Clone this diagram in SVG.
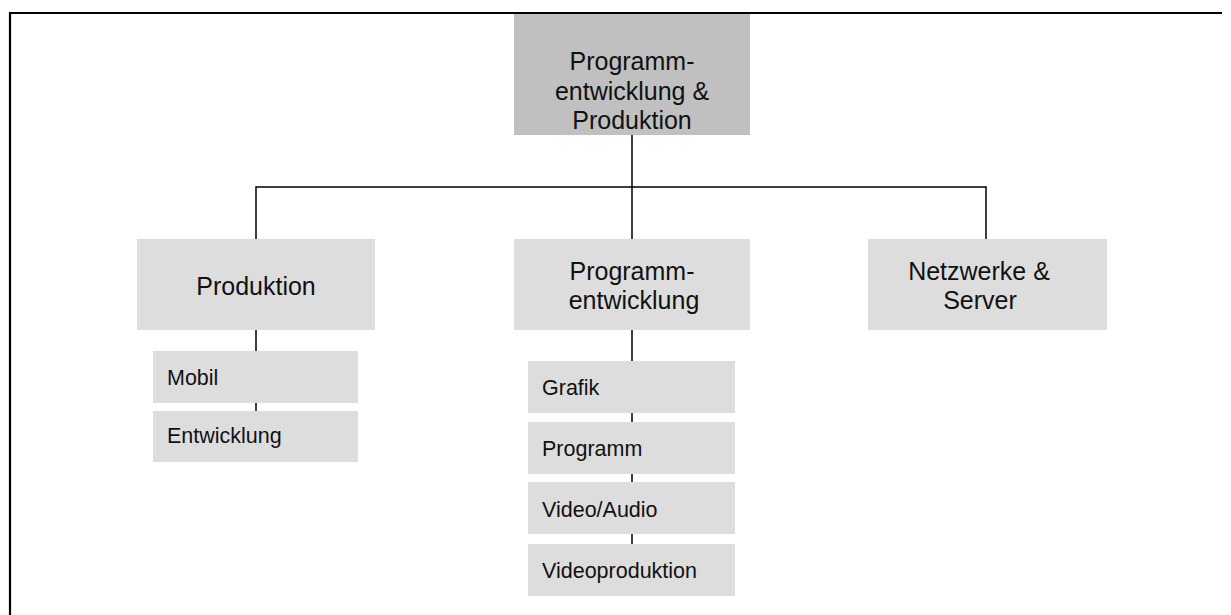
<svg xmlns="http://www.w3.org/2000/svg" width="1231" height="615" viewBox="0 0 1231 615">
<style>
.top{fill:#c0c0c0}
.box{fill:#dddddd}
.t{font-family:"Liberation Sans",Arial,sans-serif;fill:#111}
.main{font-size:25px;text-anchor:middle}
.sub{font-size:21.5px}
.ln{stroke:#000;stroke-width:1.5;fill:none}
.frame{stroke:#000;stroke-width:2.2;fill:none}
</style>
<rect width="1231" height="615" fill="#fff"/>
<path class="frame" d="M10,615 V13 H1222"/>
<g id="connectors">
<path class="ln" d="M632,135 V239"/>
<path class="ln" d="M256,239 V187 H986 V239"/>
<path class="ln" d="M256,330 V351 M256,403 V411"/>
<path class="ln" d="M632,330 V361 M632,413 V422 M632,474 V482 M632,534 V544"/>
</g>
<g id="root">
<rect class="top" x="514" y="14" width="236" height="121"/>
<text class="t main" x="632" y="70">Programm-</text>
<text class="t main" x="632" y="99.5">entwicklung &amp;</text>
<text class="t main" x="632" y="129">Produktion</text>
</g>
<g id="produktion">
<rect class="box" x="137" y="239" width="238" height="91"/>
<text class="t main" x="256" y="295">Produktion</text>
</g>
<g id="programmentwicklung">
<rect class="box" x="514" y="239" width="236" height="91"/>
<text class="t main" x="632" y="280">Programm-</text>
<text class="t main" x="634" y="309">entwicklung</text>
</g>
<g id="netzwerke">
<rect class="box" x="868" y="239" width="239" height="91"/>
<text class="t main" x="979" y="280">Netzwerke &amp;</text>
<text class="t main" x="980" y="309">Server</text>
</g>
<g id="mobil">
<rect class="box" x="153" y="351" width="205" height="52"/>
<text class="t sub" x="167" y="385">Mobil</text>
</g>
<g id="entwicklung">
<rect class="box" x="153" y="411" width="205" height="51"/>
<text class="t sub" x="167" y="443">Entwicklung</text>
</g>
<g id="grafik">
<rect class="box" x="528" y="361" width="207" height="52"/>
<text class="t sub" x="542" y="395">Grafik</text>
</g>
<g id="programm">
<rect class="box" x="528" y="422" width="207" height="52"/>
<text class="t sub" x="542" y="456">Programm</text>
</g>
<g id="videoaudio">
<rect class="box" x="528" y="482" width="207" height="52"/>
<text class="t sub" x="542" y="517">Video/Audio</text>
</g>
<g id="videoproduktion">
<rect class="box" x="528" y="544" width="207" height="52"/>
<text class="t sub" x="542" y="578">Videoproduktion</text>
</g>
</svg>
